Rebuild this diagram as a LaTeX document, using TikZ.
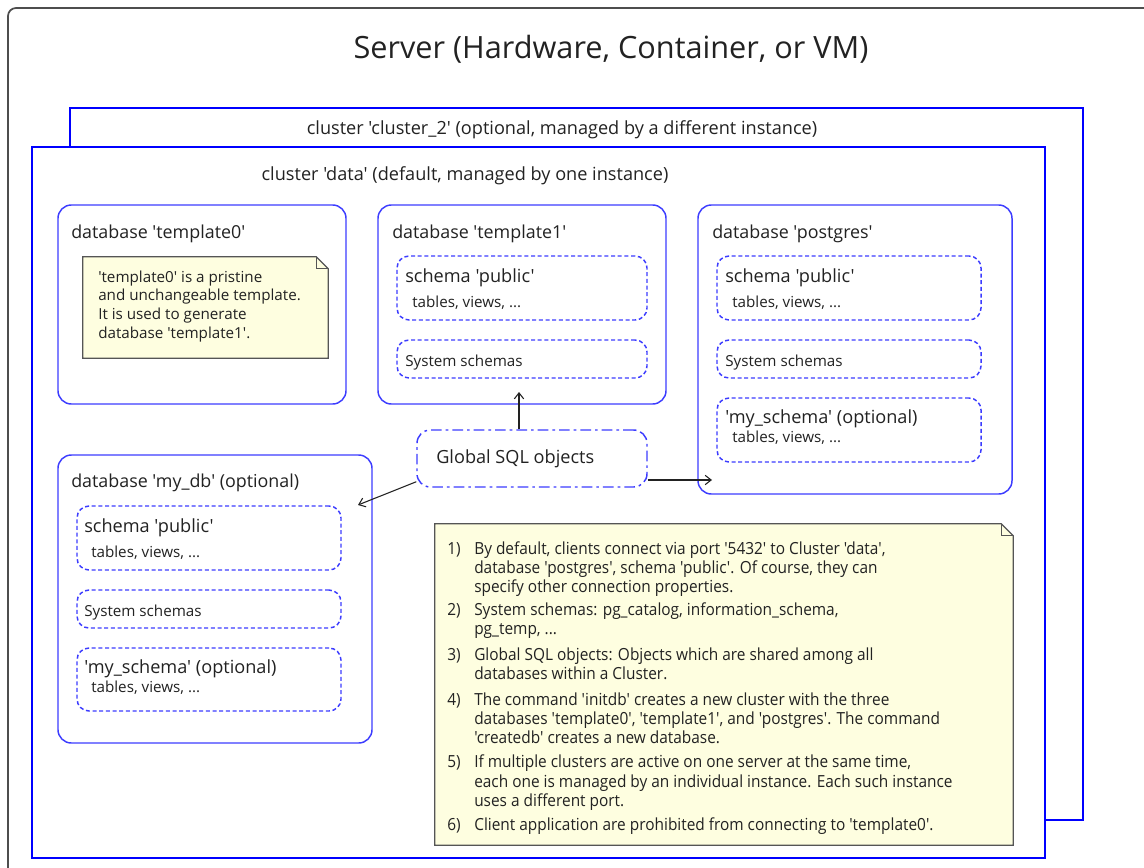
\documentclass[tikz,border=0pt]{standalone}
\usepackage{fontspec}
\setmainfont{Open Sans}
% families without TeX ligature mapping keep the quotes straight
\newfontfamily\uifont{Open Sans}
\newfontfamily\notefont[FakeStretch=0.925]{Open Sans}
\usetikzlibrary{fit,arrows.meta,calc}

\definecolor{clusterblue}{RGB}{0,0,255}
\definecolor{dbblue}{RGB}{60,60,255}
\definecolor{notefill}{RGB}{254,254,224}
\definecolor{noteline}{RGB}{85,85,85}
\definecolor{ink}{RGB}{34,34,34}

\tikzset{
  server/.style={draw=ink!80, line width=1.3pt, rounded corners=6pt},
  cluster/.style={draw=clusterblue, line width=2.2pt, fill=white, inner sep=0pt},
  dbbox/.style={draw=dbblue, line width=1.1pt, rounded corners=10pt, inner sep=0pt},
  schemabox/.style={draw=dbblue, line width=1.1pt, rounded corners=9pt, inner sep=0pt,
    dash pattern=on 3pt off 2pt},
  globalbox/.style={draw=dbblue, line width=1.1pt, rounded corners=10pt, inner sep=0pt,
    dash pattern=on 8pt off 3pt on 2pt off 3pt},
  notearea/.style={inner sep=0pt},
  notepath/.style={draw=noteline, line width=1pt, fill=notefill},
  lbl/.style={anchor=base west, inner sep=0pt, text=ink},
  title/.style={anchor=base, inner sep=0pt, text=ink, font=\uifont\fontsize{23}{28}\selectfont},
  clusterlbl/.style={anchor=base, inner sep=0pt, text=ink, font=\uifont\fontsize{13.6}{16}\selectfont},
  dblbl/.style={lbl, font=\uifont\fontsize{13.4}{16}\selectfont},
  schemalbl/.style={lbl, font=\uifont\fontsize{13.6}{16}\selectfont},
  smalllbl/.style={lbl, font=\uifont\fontsize{11.4}{14}\selectfont},
  syslbl/.style={lbl, font=\uifont\fontsize{11.4}{14}\selectfont},
  notetxt/.style={lbl, font=\uifont\fontsize{11.4}{14}\selectfont},
  item/.style={lbl, font=\notefont\fontsize{12.5}{15}\selectfont},
  arr/.style={draw=ink, line width=0.8pt, -{Straight Barb[length=4.5pt,width=7pt]}},
}

\begin{document}
\begin{tikzpicture}[x=0.75pt,y=-0.75pt]
\useasboundingbox (0,0) rectangle (1144,867);
\clip (0,0) rectangle (1144,867);

% server frame (runs off the lower right)
\draw[server] (8,8) rectangle (1170,890);
\node[title] (title) at (611,59) {Server (Hardware, Container, or VM)};

% clusters
\node[cluster, fit={(70,108) (1083,820)}] (c2) {};
\node[clusterlbl] (c2lbl) at (562,134) {cluster 'cluster\_2' (optional, managed by a different instance)};
\node[cluster, fit={(32,147) (1045,858)}] (c1) {};
\node[clusterlbl] (c1lbl) at (465,180) {cluster 'data' (default, managed by one instance)};

% database template0
\node[dbbox, fit={(58,205) (346,404)}] (t0) {};
\node[dblbl] (t0lbl) at (71,238) {database 'template0'};
\node[notearea, fit={(83,257) (328,358)}] (t0note) {};
\draw[notepath] (t0note.north west) -- ($(t0note.north east)+(-12,0)$)
  -- ($(t0note.north east)+(0,12)$) -- (t0note.south east) -- (t0note.south west) -- cycle;
\draw[noteline, line width=0.8pt] ($(t0note.north east)+(-12,0)$) -- ($(t0note.north east)+(-12,12)$)
  -- ($(t0note.north east)+(0,12)$);
\node[notetxt] (t0n1) at (98,282) {'template0' is a pristine};
\node[notetxt] (t0n2) at (98,300) {and unchangeable template.};
\node[notetxt] (t0n3) at (98,319) {It is used to generate};
\node[notetxt] (t0n4) at (98,338) {database 'template1'.};

% database template1
\node[dbbox, fit={(378,205) (666,404)}] (t1) {};
\node[dblbl] (t1lbl) at (392,238) {database 'template1'};
\node[schemabox, fit={(397,256) (647,320)}] (t1pub) {};
\node[schemalbl] (t1publ) at (405,282) {schema 'public'};
\node[smalllbl] (t1pubt) at (412,307) {tables, views, ...};
\node[schemabox, fit={(397,340) (647,378)}] (t1sys) {};
\node[syslbl] (t1sysl) at (405,366) {System schemas};

% database postgres
\node[dbbox, fit={(698,205) (1012,494)}] (pg) {};
\node[dblbl] (pglbl) at (712,238) {database 'postgres'};
\node[schemabox, fit={(717,256) (981,320)}] (pgpub) {};
\node[schemalbl] (pgpubl) at (725,282) {schema 'public'};
\node[smalllbl] (pgpubt) at (732,307) {tables, views, ...};
\node[schemabox, fit={(717,340) (981,378)}] (pgsys) {};
\node[syslbl] (pgsysl) at (725,366) {System schemas};
\node[schemabox, fit={(717,398) (981,462)}] (pgmy) {};
\node[schemalbl] (pgmyl) at (725,423) {'my\_schema' (optional)};
\node[smalllbl] (pgmyt) at (732,442) {tables, views, ...};

% database my_db
\node[dbbox, fit={(58,455) (372,743)}] (mydb) {};
\node[dblbl] (mydblbl) at (71,487) {database 'my\_db' (optional)};
\node[schemabox, fit={(77,506) (341,570)}] (mypub) {};
\node[schemalbl] (mypubl) at (84,532) {schema 'public'};
\node[smalllbl] (mypubt) at (91,557) {tables, views, ...};
\node[schemabox, fit={(77,590) (341,628)}] (mysys) {};
\node[syslbl] (mysysl) at (84,616) {System schemas};
\node[schemabox, fit={(77,648) (341,711)}] (mymy) {};
\node[schemalbl] (mymyl) at (84,673) {'my\_schema' (optional)};
\node[smalllbl] (mymyt) at (91,692) {tables, views, ...};

% global objects
\node[globalbox, fit={(417,430) (647,487)}] (gso) {};
\node[schemalbl] (gsol) at (436,463) {Global SQL objects};

% connectors
\coordinate (tipT1) at (519,392);
\coordinate (tipPG) at (712,480);
\coordinate (tipMY) at (358,505);
\draw[arr] (tipT1 |- gso.north) -- (tipT1);
\draw[arr] (gso.east |- tipPG) -- (tipPG);
\draw[arr] ($(gso.south west)+(0,-6)$) -- (tipMY);

% remarks note
\node[notearea, fit={(435,524) (1013,845)}] (remarks) {};
\draw[notepath] (remarks.north west) -- ($(remarks.north east)+(-12,0)$)
  -- ($(remarks.north east)+(0,12)$) -- (remarks.south east) -- (remarks.south west) -- cycle;
\draw[noteline, line width=0.8pt] ($(remarks.north east)+(-12,0)$) -- ($(remarks.north east)+(-12,12)$)
  -- ($(remarks.north east)+(0,12)$);

\node[item] (n1) at (447,554) {1)};
\node[item] (n1a) at (474,554) {By default, clients connect via port '5432' to Cluster 'data',};
\node[item] (n1b) at (474,573) {database 'postgres', schema 'public'. Of course, they can};
\node[item] (n1c) at (474,592) {specify other connection properties.};
\node[item] (n2) at (447,615) {2)};
\node[item] (n2a) at (474,615) {System schemas: pg\_catalog, information\_schema,};
\node[item] (n2b) at (474,634) {pg\_temp, ...};
\node[item] (n3) at (447,660) {3)};
\node[item] (n3a) at (474,660) {Global SQL objects: Objects which are shared among all};
\node[item] (n3b) at (474,679) {databases within a Cluster.};
\node[item] (n4) at (447,705) {4)};
\node[item] (n4a) at (474,705) {The command 'initdb' creates a new cluster with the three};
\node[item] (n4b) at (474,724) {databases 'template0', 'template1', and 'postgres'. The command};
\node[item] (n4c) at (474,743) {'createdb' creates a new database.};
\node[item] (n5) at (447,767) {5)};
\node[item] (n5a) at (474,767) {If multiple clusters are active on one server at the same time,};
\node[item] (n5b) at (474,787) {each one is managed by an individual instance. Each such instance};
\node[item] (n5c) at (474,806) {uses a different port.};
\node[item] (n6) at (447,830) {6)};
\node[item] (n6a) at (474,830) {Client application are prohibited from connecting to 'template0'.};
\end{tikzpicture}
\end{document}
